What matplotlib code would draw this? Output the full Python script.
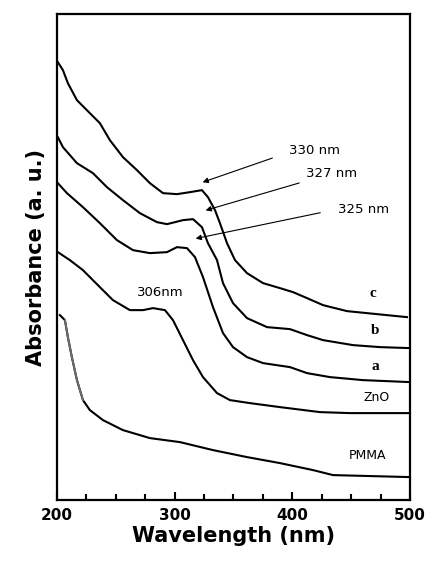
import matplotlib
matplotlib.use('Agg')
import matplotlib.pyplot as plt
import numpy as np

# wavelength (nm) / absorbance (a.u., curves offset vertically)
wl_c = [200.8, 205.1, 209.3, 217.0, 228.0, 236.5, 245.0, 256.1, 268.0, 279.0, 290.1, 302.0, 313.0, 323.2,
        328.3, 334.3, 338.5, 344.5, 351.3, 361.5, 375.1, 389.5, 400.6, 412.5, 426.1, 446.5, 463.4, 497.4]
ab_c = [4.38, 4.30, 4.17, 4.00, 3.87, 3.77, 3.60, 3.43, 3.30, 3.17, 3.07, 3.06, 3.08, 3.10,
        3.03, 2.90, 2.77, 2.57, 2.40, 2.27, 2.17, 2.12, 2.08, 2.02, 1.95, 1.89, 1.87, 1.83]

wl_b = [200.8, 205.1, 217.0, 230.6, 242.5, 256.1, 270.5, 285.0, 293.5, 307.1, 315.6, 323.2, 328.3,
        336.0, 341.1, 349.6, 361.5, 378.5, 398.0, 412.5, 426.1, 451.6, 474.5, 500]
ab_b = [3.63, 3.53, 3.37, 3.27, 3.13, 3.00, 2.87, 2.78, 2.76, 2.80, 2.81, 2.73, 2.57,
        2.40, 2.17, 1.97, 1.82, 1.73, 1.71, 1.65, 1.60, 1.55, 1.53, 1.52]

wl_a = [200.8, 208.5, 222.1, 236.5, 251.0, 264.6, 279.0, 293.5, 302.0, 310.5, 317.3, 324.1, 332.6,
        341.1, 349.6, 361.5, 375.1, 398.0, 412.5, 432.0, 460.0, 500]
ab_a = [3.17, 3.07, 2.93, 2.77, 2.60, 2.50, 2.47, 2.48, 2.53, 2.52, 2.43, 2.23, 1.93,
        1.67, 1.53, 1.43, 1.37, 1.33, 1.27, 1.23, 1.20, 1.18]

wl_zno = [200.8, 211.0, 222.1, 236.5, 247.6, 262.0, 273.1, 281.6, 291.8, 298.6, 307.1, 315.6, 324.1,
          336.0, 347.0, 364.0, 389.5, 423.5, 449.0, 500]
ab_zno = [2.48, 2.40, 2.30, 2.13, 2.00, 1.90, 1.90, 1.92, 1.90, 1.80, 1.60, 1.40, 1.23,
          1.07, 1.00, 0.97, 0.93, 0.88, 0.87, 0.87]

wl_pmma = [202.5, 206.8, 209.3, 212.7, 217.0, 222.1, 228.0, 239.1, 256.1, 279.0, 304.5, 332.6,
           361.5, 389.5, 417.6, 434.6, 500]
ab_pmma = [1.85, 1.80, 1.63, 1.43, 1.20, 1.00, 0.90, 0.80, 0.70, 0.62, 0.58, 0.50,
           0.43, 0.37, 0.30, 0.25, 0.23]

curve_labels = ['c', 'b', 'a', 'ZnO', 'PMMA']
label_x = [373, 375, 375, 377, 367]
label_y = [2.07, 1.70, 1.34, 1.03, 0.45]

peaks = ['330 nm', '327 nm', '325 nm']
peak_text_x = [315, 332, 364]
peak_text_y = [3.50, 3.27, 2.91]
peak_tail = [(275, 3.43), (302, 3.18), (323, 2.88)]
peak_head = [(200, 3.17), (203, 2.89), (193, 2.61)]


def to_nm(px):
    return 200 + (px - 57) / 1.1767


fig = plt.figure(figsize=(4.28, 5.67), dpi=100)
ax = fig.add_axes([0.133, 0.118, 0.825, 0.857])

for wl, ab in [(wl_c, ab_c), (wl_b, ab_b), (wl_a, ab_a), (wl_zno, ab_zno), (wl_pmma, ab_pmma)]:
    ax.plot(wl, ab, color='black', lw=1.5, solid_joinstyle='round')
# lighter stretch on the PMMA edge
ax.plot(wl_pmma[1:6], ab_pmma[1:6], color='#707070', lw=1.3, solid_joinstyle='round')

ax.set_xlim(200, 500)
ax.set_ylim(0, 4.86)
ax.set_yticks([])
ax.set_xticks([200, 300, 400, 500])
ax.set_xticks(np.arange(200, 501, 25), minor=True)
ax.tick_params(axis='x', which='major', direction='in', length=6, width=1.5, pad=6)
ax.tick_params(axis='x', which='minor', direction='in', length=4, width=1.5)
for lab in ax.get_xticklabels():
    lab.set_fontweight('bold')
    lab.set_fontsize(11)
for sp in ax.spines.values():
    sp.set_linewidth(1.6)

ax.set_xlabel('Wavelength (nm)', fontsize=15, fontweight='bold', labelpad=2)
ax.set_ylabel('Absorbance (a. u.)', fontsize=15, fontweight='bold', labelpad=8)

for name, x, y in zip(curve_labels, label_x, label_y):
    if len(name) == 1:
        ax.text(to_nm(x), y, name, fontsize=11, fontweight='bold',
                family='Liberation Serif', ha='center', va='center')
    else:
        ax.text(to_nm(x), y, name, fontsize=9, ha='center', va='center')

for txt, x, y, tail, head in zip(peaks, peak_text_x, peak_text_y, peak_tail, peak_head):
    ax.text(to_nm(x), y, txt, fontsize=9.5, ha='center', va='center')
    ax.annotate('', xy=(to_nm(head[0]), head[1]), xytext=(to_nm(tail[0]), tail[1]),
                arrowprops=dict(arrowstyle='-|>', color='black', lw=0.8,
                                mutation_scale=8))

ax.text(to_nm(160), 2.08, '306nm', fontsize=9.5, ha='center', va='center')

fig.savefig('out.png', dpi=100)
